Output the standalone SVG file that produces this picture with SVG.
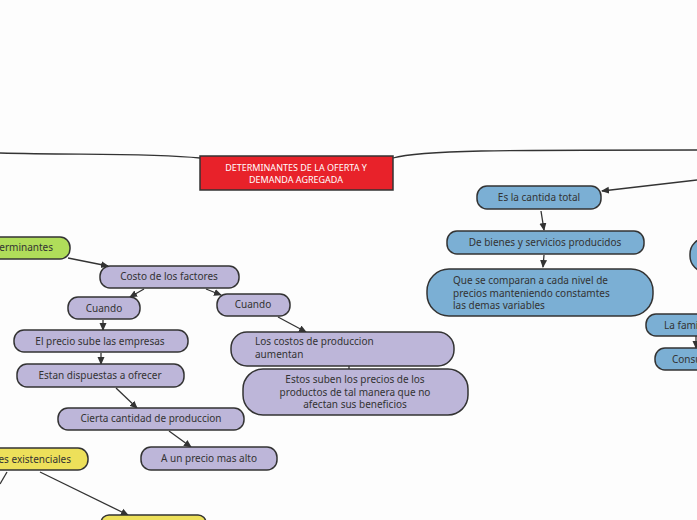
<svg xmlns="http://www.w3.org/2000/svg" width="697" height="520" viewBox="0 0 697 520">
<defs>
<marker id="a" markerWidth="8" markerHeight="8" refX="7" refY="4" orient="auto" markerUnits="userSpaceOnUse"><path d="M0,0.5 L8,4 L0,7.5 z" fill="#333"/></marker>
<style>
.n{stroke:#333;stroke-width:1.5}
.p{fill:#bdb6d9}.b{fill:#7bafd4}.y{fill:#ede05a}.g{fill:#b0dd5a}
text{font-family:"Noto Sans","DejaVu Sans",sans-serif;font-size:10px;fill:#333}
.c{text-anchor:middle}
.e{text-anchor:end}
.l{fill:none;stroke:#333;stroke-width:1.3}
</style>
</defs>
<rect width="697" height="520" fill="#fdfdfd"/>
<g id="connectors">
<path class="l" d="M0,153 C80,155 150,153 200,158"/>
<path class="l" d="M393,158 C420,150 500,150 697,150"/>
<path class="l" d="M697,180 L602,191" marker-end="url(#a)"/>
<path class="l" d="M68,258 L108,266" marker-end="url(#a)"/>
<path class="l" d="M144,289 L130,297" marker-end="url(#a)"/>
<path class="l" d="M206,289 L221,295" marker-end="url(#a)"/>
<path class="l" d="M103,320 L103,330" marker-end="url(#a)"/>
<path class="l" d="M278,317 L306,332" marker-end="url(#a)"/>
<path class="l" d="M101,353 L101,364" marker-end="url(#a)"/>
<path class="l" d="M116,388 L137,408" marker-end="url(#a)"/>
<path class="l" d="M169,431 L191,447" marker-end="url(#a)"/>
<path class="l" d="M349,366 L349,369"/>
<path class="l" d="M40,472 L128,515" marker-end="url(#a)"/>
<path class="l" d="M7,472 L0,484"/>
<path class="l" d="M541,211 L544,230" marker-end="url(#a)"/>
<path class="l" d="M544,255 L543,267" marker-end="url(#a)"/>
<path class="l" d="M696,336 L696,348" marker-end="url(#a)"/>
</g>
<g id="central"><rect x="200" y="156" width="193" height="34" fill="#e8222a" class="n"/><text class="c" x="296" y="171" style="fill:#fff;font-size:9px">DETERMINANTES DE LA OFERTA Y</text><text class="c" x="296" y="183" style="fill:#fff;font-size:9px">DEMANDA AGREGADA</text></g>
<g id="determinantes"><rect class="n g" x="-30" y="237" width="100" height="22" rx="10"/><text class="e" x="53" y="251">Determinantes</text></g>
<g id="costo"><rect class="n p" x="100" y="266" width="139" height="22" rx="10"/><text class="c" x="169" y="280">Costo de los factores</text></g>
<g id="cuando1"><rect class="n p" x="68" y="297" width="72" height="22" rx="10"/><text class="c" x="104" y="312">Cuando</text></g>
<g id="cuando2"><rect class="n p" x="217" y="294" width="73" height="22" rx="10"/><text class="c" x="253" y="308">Cuando</text></g>
<g id="elprecio"><rect class="n p" x="14" y="330" width="174" height="22" rx="10"/><text class="c" x="100" y="345">El precio sube las empresas</text></g>
<g id="estan"><rect class="n p" x="17" y="364" width="167" height="23" rx="10"/><text class="c" x="100" y="379">Estan dispuestas a ofrecer</text></g>
<g id="cierta"><rect class="n p" x="58" y="408" width="186" height="22" rx="10"/><text class="c" x="151" y="422">Cierta cantidad de produccion</text></g>
<g id="precioalto"><rect class="n p" x="141" y="447" width="136" height="23" rx="10"/><text class="c" x="209" y="462">A un precio mas alto</text></g>
<g id="costos"><rect class="n p" x="231" y="332" width="223" height="34" rx="16"/><text x="255" y="345">Los costos de produccion</text><text x="255" y="358">aumentan</text></g>
<g id="estos"><rect class="n p" x="243" y="369" width="225" height="46" rx="20"/><text class="c" x="355" y="383">Estos suben los precios de los</text><text class="c" x="355" y="396">productos de tal manera que no</text><text class="c" x="355" y="408">afectan sus beneficios</text></g>
<g id="existenciales"><rect class="n y" x="-40" y="448" width="128" height="22" rx="10"/><text class="e" x="71" y="463">Factores existenciales</text></g>
<g id="amarillo2"><rect class="n y" x="101" y="515" width="105" height="20" rx="8"/></g>
<g id="cantidad"><rect class="n b" x="477" y="186" width="124" height="23" rx="10"/><text class="c" x="539" y="201">Es la cantida total</text></g>
<g id="bienes"><rect class="n b" x="447" y="231" width="197" height="23" rx="10"/><text class="c" x="545" y="246">De bienes y servicios producidos</text></g>
<g id="comparan"><rect class="n b" x="427" y="269" width="226" height="47" rx="22"/><text x="453" y="284">Que se comparan a cada nivel de</text><text x="453" y="297">precios manteniendo constamtes</text><text x="453" y="309">las demas variables</text></g>
<g id="derecha1"><rect class="n b" x="690" y="238" width="40" height="34" rx="16"/></g>
<g id="familia"><rect class="n b" x="646" y="314" width="80" height="22" rx="10"/><text x="664" y="329">La familia</text></g>
<g id="consumo"><rect class="n b" x="655" y="348" width="80" height="22" rx="10"/><text x="672" y="363">Consumo</text></g>
</svg>
